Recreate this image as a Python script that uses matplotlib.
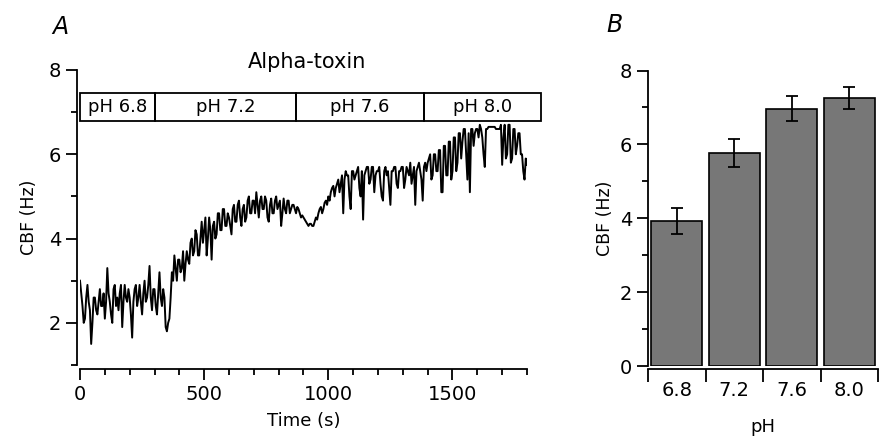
import matplotlib
matplotlib.use("Agg")
from matplotlib import pyplot as plt
from matplotlib.patches import Rectangle
from matplotlib.ticker import MultipleLocator

# panel A: CBF trace, one value every 5 s from 0 to 1800 s
timeStep = 5
cbfTrace = [
    3.0, 2.7, 2.4, 2.0, 2.1, 2.6, 2.9, 2.5, 2.3, 1.5,
    2.0, 2.6, 2.6, 2.3, 2.2, 2.5, 2.8, 2.4, 2.4, 2.7,
    2.1, 2.5, 3.3, 2.7, 2.5, 2.2, 2.0, 2.8, 2.9, 2.4,
    2.6, 2.3, 2.7, 2.9, 1.9, 2.5, 2.9, 2.6, 2.5, 2.8,
    2.6, 2.2, 1.65, 2.5, 2.8, 2.9, 2.4, 2.6, 2.9, 2.5,
    2.2, 2.7, 3.0, 2.5, 2.6, 2.9, 3.35, 2.6, 2.3, 2.8,
    2.8, 2.4, 2.2, 2.7, 3.2, 2.6, 2.4, 2.8, 2.6, 1.9,
    1.8, 2.0, 2.1, 2.6, 3.2, 3.0, 3.6, 3.3, 3.0, 3.5,
    3.5, 3.2, 3.3, 3.7, 3.0, 3.4, 3.7, 3.5, 3.4, 3.9,
    4.0, 3.6, 3.7, 4.2, 4.1, 3.6, 3.6, 4.0, 4.4, 3.9,
    4.2, 4.5, 3.6, 4.0, 4.5, 4.2, 3.5, 4.3, 4.4, 4.0,
    4.1, 4.6, 4.6, 4.2, 4.2, 4.7, 4.7, 4.3, 4.3, 4.6,
    4.5, 4.3, 4.1, 4.7, 4.8, 4.4, 4.4, 4.8, 4.9, 4.5,
    4.3, 4.7, 4.8, 4.4, 4.5, 4.9, 5.0, 4.6, 4.6, 4.9,
    4.9, 4.6, 5.1, 4.8, 4.5, 4.9, 5.0, 4.7, 4.7, 5.0,
    4.9, 4.5, 4.4, 4.8, 4.95, 4.6, 4.6, 4.9, 5.0, 4.7,
    4.8, 4.9, 4.3, 4.6, 4.95, 4.7, 4.6, 4.9, 4.9, 4.6,
    4.7, 4.8, 4.8, 4.7, 4.6, 4.75, 4.7, 4.6, 4.5, 4.55,
    4.5, 4.45, 4.4, 4.35, 4.3, 4.35, 4.35, 4.3, 4.3, 4.4,
    4.5, 4.45, 4.6, 4.7, 4.75, 4.6, 4.7, 4.85, 4.9, 4.8,
    5.0, 4.9, 5.1, 5.2, 5.25, 5.0, 5.2, 5.3, 5.4, 5.1,
    5.3, 5.5, 4.6, 5.4, 5.6, 5.5, 5.5, 5.0, 4.7, 5.6,
    5.6, 5.4, 5.5, 5.6, 5.7, 5.2, 5.0, 5.6, 4.45, 5.5,
    5.6, 5.7, 5.7, 5.3, 5.4, 5.7, 5.7, 5.1, 5.5, 5.6,
    5.6, 5.7, 5.3, 5.0, 4.9, 5.6, 5.7, 5.5, 5.6, 5.2,
    4.8, 5.6, 5.6, 5.7, 5.7, 5.3, 5.2, 5.6, 5.6, 5.7,
    5.7, 5.2, 5.4, 5.7, 5.6, 5.5, 5.8, 5.3, 5.5, 5.7,
    4.8, 5.6, 5.7, 5.8, 5.6, 5.4, 4.9, 5.7, 5.8, 5.6,
    5.8, 5.9, 6.0, 5.4, 5.5, 6.0, 6.0, 5.6, 5.6, 6.1,
    6.1, 5.1, 5.1, 6.2, 6.2, 5.5, 5.5, 6.3, 6.3, 5.4,
    5.6, 6.4, 6.4, 5.6, 5.8, 6.5, 6.5, 5.9, 6.3, 6.6,
    6.6, 6.0, 5.4, 6.5, 5.1, 6.6, 6.6, 6.2, 6.5, 6.6,
    6.6, 6.4, 6.7, 6.6, 6.4, 6.0, 5.7, 6.6, 6.6, 6.65,
    6.65, 6.65, 6.65, 6.65, 6.65, 6.6, 6.6, 6.6, 6.6, 6.7,
    5.75, 6.4, 6.7, 5.9, 6.0, 6.7, 6.7, 5.8, 5.9, 6.6,
    6.6, 6.0, 6.2, 6.5, 6.5, 6.0, 6.0, 5.6, 5.4, 5.9,
    5.75,
]
timeValues = [i * timeStep for i in range(len(cbfTrace))]

# pH periods shown as boxes above the trace (start, end in s)
phLabels = ["pH 6.8", "pH 7.2", "pH 7.6", "pH 8.0"]
phStarts = [0, 300, 870, 1385]
phEnds = [300, 870, 1385, 1855]

# panel B: mean CBF at each pH
phCategories = ["6.8", "7.2", "7.6", "8.0"]
meanCbf = [3.92, 5.77, 6.97, 7.26]
errCbf = [0.35, 0.37, 0.33, 0.30]

fig = plt.figure(figsize=(8.83, 4.37), dpi=100)

# ---- panel A ----
axA = fig.add_axes([80 / 883, 1 - 365 / 437, 447 / 883, 295 / 437])
axA.plot(timeValues, cbfTrace, color="black", lw=1.4)
axA.set_xlim(0, 1800)
axA.set_ylim(1, 8)
axA.xaxis.set_major_locator(MultipleLocator(500))
axA.xaxis.set_minor_locator(MultipleLocator(100))
axA.yaxis.set_minor_locator(MultipleLocator(1))
axA.set_yticks([2, 4, 6, 8])
for s in ["top", "right"]:
    axA.spines[s].set_visible(False)
axA.spines["left"].set_position(("outward", 2))
axA.spines["bottom"].set_position(("outward", 3))
for s in ["left", "bottom"]:
    axA.spines[s].set_linewidth(1.3)
axA.tick_params(which="major", length=8, width=1.3, labelsize=14)
axA.tick_params(which="minor", length=4, width=1.3)
axA.set_xlabel("Time (s)", fontsize=13)
axA.set_ylabel("CBF (Hz)", fontsize=12.5)
axA.xaxis.set_label_coords(0.5, -0.16)
axA.yaxis.set_label_coords(-0.095, 0.5)

for lab, x0, x1 in zip(phLabels, phStarts, phEnds):
    axA.add_patch(Rectangle((x0, 6.8), x1 - x0, 0.65, fill=False,
                            edgecolor="black", lw=1.3, clip_on=False))
    axA.text((x0 + x1) / 2, 7.12, lab, ha="center", va="center",
             fontsize=13, clip_on=False)

fig.text(307 / 883, 1 - 62 / 437, "Alpha-toxin", ha="center", va="center", fontsize=15)
fig.text(60 / 883, 1 - 27 / 437, "A", ha="center", va="center", fontsize=17, style="italic")

# ---- panel B ----
axB = fig.add_axes([648 / 883, 1 - 366 / 437, 230 / 883, 295.5 / 437])
xpos = list(range(len(phCategories)))
axB.bar(xpos, meanCbf, width=0.88, color="#777777", edgecolor="black", lw=1.2)
axB.errorbar(xpos, meanCbf, yerr=errCbf, fmt="none", ecolor="black",
             elinewidth=1.3, capsize=4, capthick=1.3)
axB.set_xlim(-0.5, 3.5)
axB.set_ylim(0, 8)
axB.yaxis.set_major_locator(MultipleLocator(2))
axB.yaxis.set_minor_locator(MultipleLocator(1))
axB.set_xticks(xpos)
axB.set_xticklabels(phCategories)
axB.set_xticks([-0.5, 0.5, 1.5, 2.5, 3.5], minor=True)
for s in ["top", "right"]:
    axB.spines[s].set_visible(False)
axB.spines["bottom"].set_position(("outward", 2))
for s in ["left", "bottom"]:
    axB.spines[s].set_linewidth(1.3)
axB.tick_params(axis="y", which="major", length=8, width=1.3, labelsize=14)
axB.tick_params(axis="y", which="minor", length=4, width=1.3)
axB.tick_params(axis="x", which="major", length=0, labelsize=14, pad=9)
axB.tick_params(axis="x", which="minor", length=9, width=1.3)
axB.set_ylabel("CBF (Hz)", fontsize=12.5)
axB.set_xlabel("pH", fontsize=13)
axB.xaxis.set_label_coords(0.5, -0.175)

fig.text(614 / 883, 1 - 25 / 437, "B", ha="center", va="center", fontsize=17, style="italic")

fig.savefig("out.png", dpi=100)
